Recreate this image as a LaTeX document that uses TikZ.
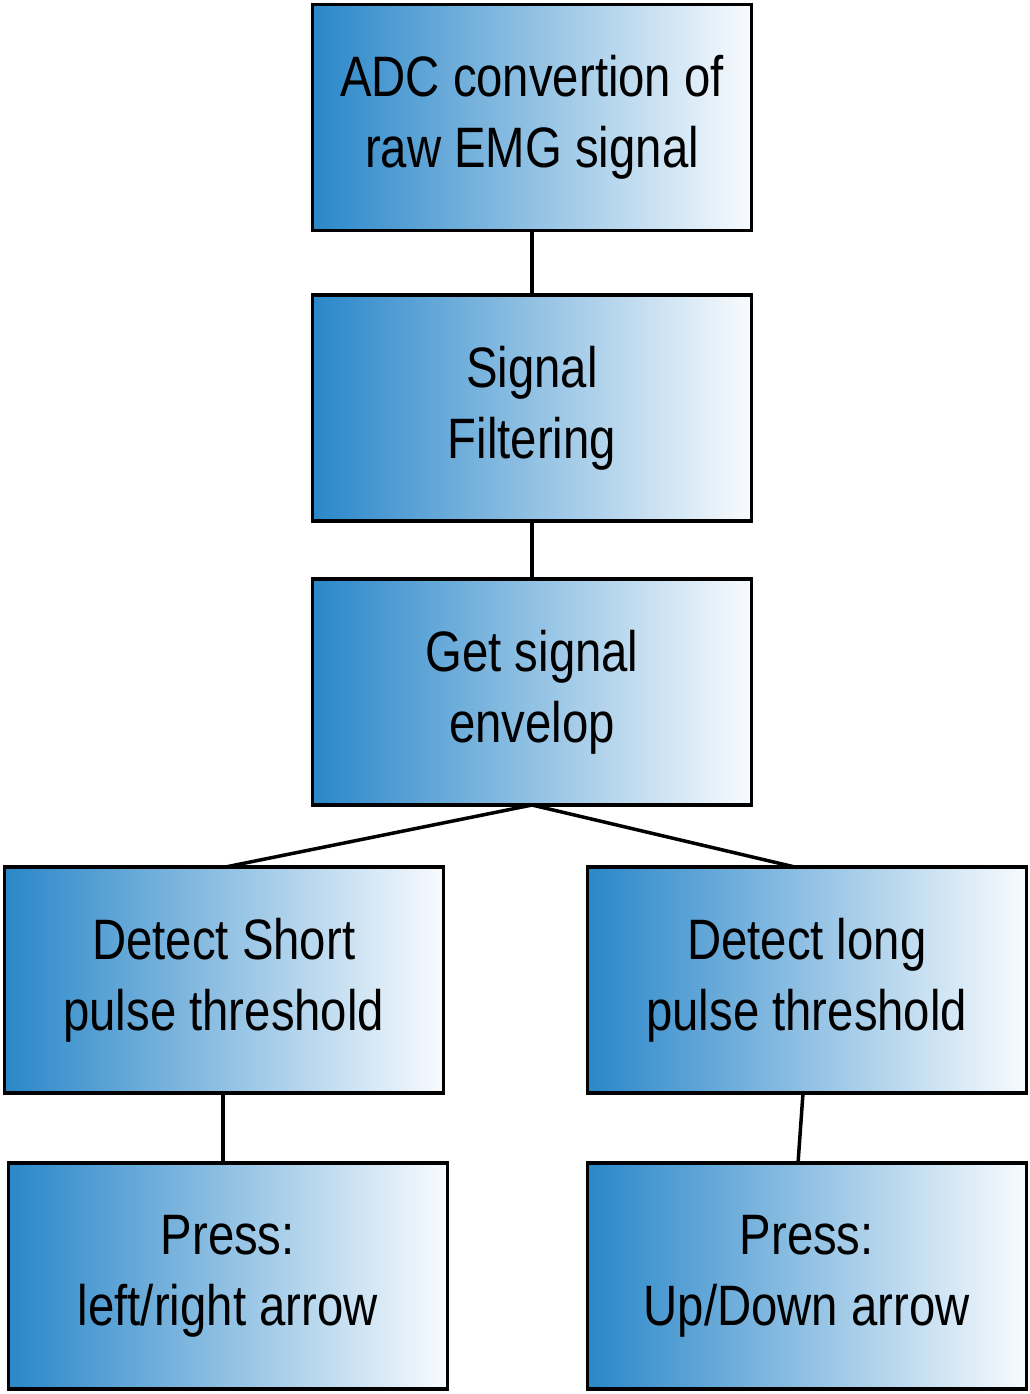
\documentclass[tikz,border=0pt]{standalone}
\usepackage{fontspec}
\setmainfont{Liberation Sans}[FakeStretch=0.83]
\usetikzlibrary{shadings}
\definecolor{boxblue}{HTML}{2A87C9}
\definecolor{boxwhite}{HTML}{F8FBFE}
\begin{document}
\begin{tikzpicture}[x=1pt,y=-1pt,
  flowbox/.style={draw=black, line width=3.5pt, rectangle,
    left color=boxblue, right color=boxwhite,
    minimum width=439pt, minimum height=226pt, inner sep=0pt, outer sep=0pt,
    align=center, font=\fontsize{57}{71}\selectfont},
  link/.style={line width=3.5pt, draw=black}]
\useasboundingbox (0,0) rectangle (1030,1394);
\node[flowbox] (adc) at (532,117.5) {ADC convertion of\\raw EMG signal};
\node[flowbox] (filt) at (532,408) {Signal\\Filtering};
\node[flowbox] (env) at (532,692) {Get signal\\envelop};
\node[flowbox] (short) at (223.75,980) {Detect Short\\pulse threshold};
\node[flowbox] (long) at (806.75,980) {Detect long\\pulse threshold};
\node[flowbox] (lr) at (227.75,1276) {Press:\\left/right arrow};
\node[flowbox] (ud) at (806.75,1276) {Press:\\Up/Down arrow};
\coordinate (shorttop) at (223,867.5);
\coordinate (longtop) at (797,867.5);
\coordinate (longbot) at (803,1093);
\coordinate (udtop) at (798,1163.5);
\coordinate (lrtop) at (223,1163.5);
\coordinate (shortbot) at (223,1093);
\draw[link] (adc.south) -- (filt.north);
\draw[link] (filt.south) -- (env.north);
\draw[link] (env.south) -- (shorttop);
\draw[link] (env.south) -- (longtop);
\draw[link] (shortbot) -- (lrtop);
\draw[link] (longbot) -- (udtop);
\end{tikzpicture}
\end{document}
